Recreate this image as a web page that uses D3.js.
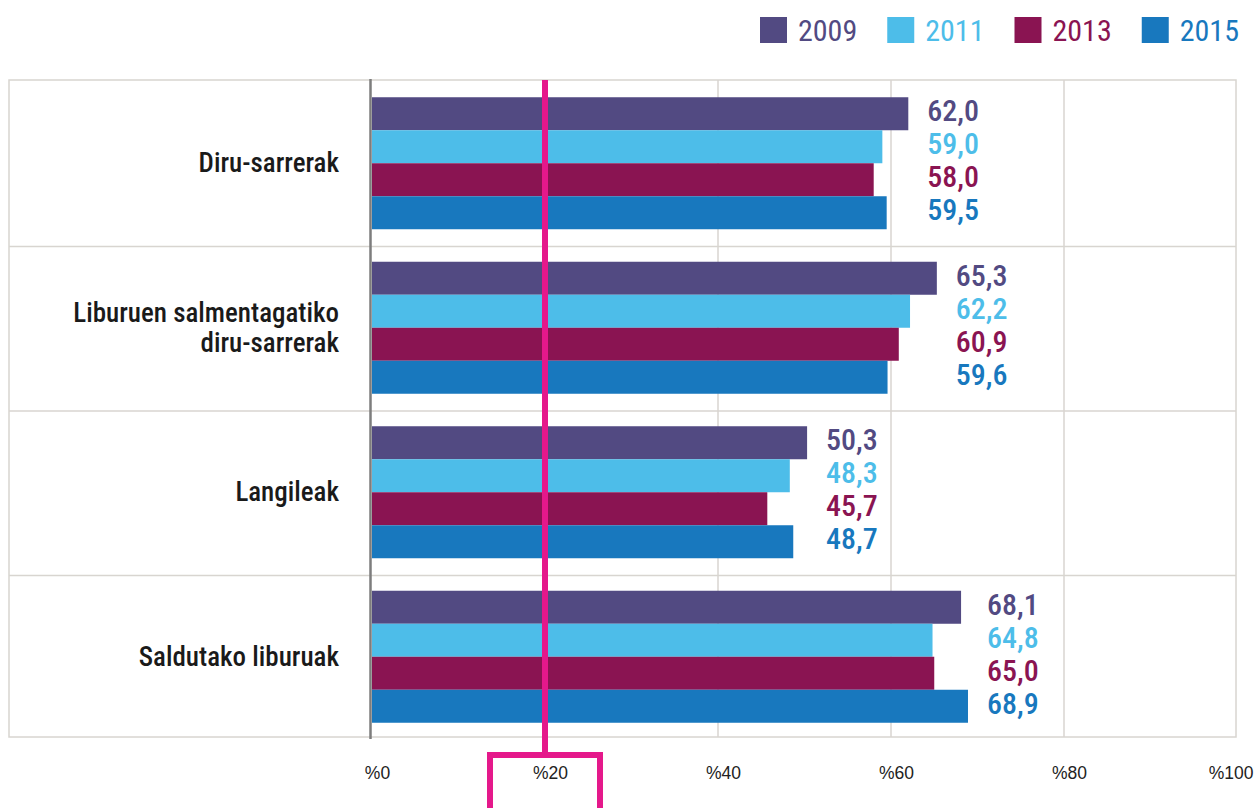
<!DOCTYPE html>
<html>
<head>
<meta charset="utf-8">
<script src="https://cdn.jsdelivr.net/npm/d3@7"></script>
<style>
  html, body { margin: 0; padding: 0; background: #fff; }
  svg { display: block; }
</style>
</head>
<body>
<svg id="chart" width="1254" height="808"></svg>
<script>
// ---- data ----
const categories = ["Diru-sarrerak", "Liburuen salmentagatiko\ndiru-sarrerak", "Langileak", "Saldutako liburuak"];
const years = ["2009", "2011", "2013", "2015"];
const values2009 = [62.0, 65.3, 50.3, 68.1];
const values2011 = [59.0, 62.2, 48.3, 64.8];
const values2013 = [58.0, 60.9, 45.7, 65.0];
const values2015 = [59.5, 59.6, 48.7, 68.9];
const tickValues = [0, 20, 40, 60, 80, 100];
const tickLabels = ["%0", "%20", "%40", "%60", "%80", "%100"];
const highlightValue = 20;

const seriesValues = [values2009, values2011, values2013, values2015];
const colors = ["#524A82", "#4DBDE9", "#8A1452", "#1878BE"];
const pink = "#E5188B";
const condensed = "'Liberation Sans Narrow', 'Roboto Condensed', 'DejaVu Sans Condensed', sans-serif";

const svg = d3.select("#chart");

const x = d3.scaleLinear().domain([0, 100]).range([372, 1237]);
const y = d3.scaleBand().domain(categories).range([81, 739]).paddingInner(0).paddingOuter(0);
const groupH = 132;
const ySub = d3.scaleBand().domain(years).range([0, groupH]);
const groupTop = c => y(c) + (y.bandwidth() - groupH) / 2;

const frameL = 9, frameR = 1236, frameT = 80, frameB = 737;
const grid = "#D8D5D0";

// frame
svg.append("rect")
  .attr("x", frameL).attr("y", frameT)
  .attr("width", frameR - frameL).attr("height", frameB - frameT)
  .attr("fill", "none").attr("stroke", grid).attr("stroke-width", 1.5);

// vertical grid lines
svg.append("g").selectAll("line")
  .data(tickValues.filter(v => v > 0 && v < 100))
  .join("line")
  .attr("x1", d => x(d)).attr("x2", d => x(d))
  .attr("y1", frameT).attr("y2", frameB)
  .attr("stroke", grid).attr("stroke-width", 1.5);

// row separators
svg.append("g").selectAll("line")
  .data(categories.slice(1))
  .join("line")
  .attr("x1", frameL).attr("x2", frameR)
  .attr("y1", d => y(d) + 1).attr("y2", d => y(d) + 1)
  .attr("stroke", grid).attr("stroke-width", 1.5);

// bars
const fmt = v => d3.format(".1f")(v).replace(".", ",");
const groups = svg.append("g").selectAll("g")
  .data(categories)
  .join("g")
  .attr("transform", c => `translate(0,${groupTop(c)})`);

groups.each(function(c, ci) {
  const g = d3.select(this);
  const rows = years.map((yr, si) => ({ yr, si, v: seriesValues[si][ci] }));
  const maxV = d3.max(rows, r => r.v);
  g.selectAll("rect")
    .data(rows)
    .join("rect")
    .attr("x", x(0))
    .attr("y", r => ySub(r.yr))
    .attr("width", r => x(r.v) - x(0))
    .attr("height", ySub.bandwidth())
    .attr("fill", r => colors[r.si]);
  g.selectAll("text")
    .data(rows)
    .join("text")
    .attr("x", x(maxV) + 19)
    .attr("y", r => ySub(r.yr) + ySub.bandwidth() / 2 - 3)
    .attr("dominant-baseline", "central")
    .attr("fill", r => colors[r.si])
    .attr("font-family", condensed)
    .attr("font-size", 30)
    .attr("font-weight", 500)
    .text(r => fmt(r.v));
});

// zero axis line
svg.append("line")
  .attr("x1", x(0) - 1.5).attr("x2", x(0) - 1.5)
  .attr("y1", frameT - 1).attr("y2", frameB + 2)
  .attr("stroke", "#7D7D7D").attr("stroke-width", 2.5);

// category labels
svg.append("g").selectAll("text")
  .data(categories)
  .join("text")
  .attr("text-anchor", "end")
  .attr("font-family", condensed)
  .attr("font-size", 27)
  .attr("font-weight", 500)
  .attr("fill", "#1A1A1A")
  .each(function(c) {
    const lines = c.split("\n");
    const cy = y(c) + y.bandwidth() / 2;
    const lh = 30;
    d3.select(this).selectAll("tspan")
      .data(lines)
      .join("tspan")
      .attr("x", 339)
      .attr("y", (l, i) => cy + (i - (lines.length - 1) / 2) * lh)
      .attr("dominant-baseline", "central")
      .text(l => l);
  });

// x axis labels
const axis = d3.axisBottom(x)
  .tickValues(tickValues)
  .tickSize(0)
  .tickFormat((d, i) => tickLabels[i]);
const axG = svg.append("g")
  .attr("transform", `translate(0,${frameB})`)
  .call(axis);
axG.select(".domain").remove();
axG.selectAll("text")
  .attr("font-family", "'Liberation Sans', Arial, sans-serif")
  .attr("font-size", 17.5)
  .attr("fill", "#222")
  .attr("dy", null)
  .attr("y", 42)
  .attr("x", function() {
    const w = this.getComputedTextLength();
    const d = d3.select(this.parentNode).datum();
    const maxCx = 1253 - x(d) - w / 2;
    return Math.min(5, maxCx);
  });

// highlight line and box
svg.append("line")
  .attr("x1", x(highlightValue)).attr("x2", x(highlightValue))
  .attr("y1", frameT).attr("y2", 752)
  .attr("stroke", pink).attr("stroke-width", 6);
svg.append("rect")
  .attr("x", x(highlightValue) - 55)
  .attr("y", 755)
  .attr("width", 110)
  .attr("height", 70)
  .attr("fill", "none")
  .attr("stroke", pink)
  .attr("stroke-width", 6);

// legend
const legend = svg.append("g");
const items = legend.selectAll("g")
  .data(years)
  .join("g");
items.append("rect")
  .attr("width", 27).attr("height", 26)
  .attr("y", 17)
  .attr("fill", (d, i) => colors[i]);
items.append("text")
  .attr("x", 38)
  .attr("y", 30)
  .attr("dominant-baseline", "central")
  .attr("font-family", condensed)
  .attr("font-size", 30)
  .attr("font-weight", 400)
  .attr("fill", (d, i) => colors[i])
  .text(d => d);
const widths = [];
items.each(function() { widths.push(this.getBBox().width); });
const gap = 30;
let cursor = 1239 - d3.sum(widths) - gap * (years.length - 1);
items.attr("transform", (d, i) => {
  const t = `translate(${cursor},0)`;
  cursor += widths[i] + gap;
  return t;
});
</script>
</body>
</html>
